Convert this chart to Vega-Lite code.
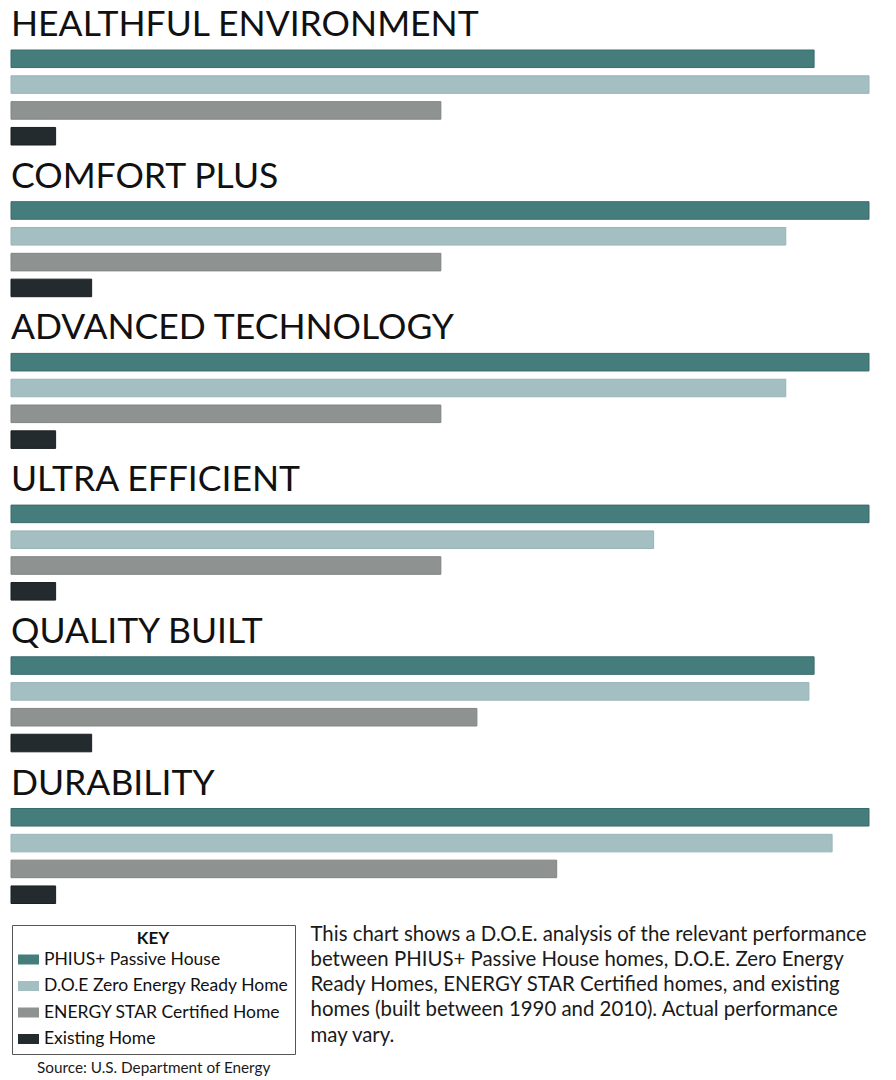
{
  "$schema": "https://vega.github.io/schema/vega-lite/v6.json",
  "padding": {"left": 10, "top": 8, "right": 0, "bottom": 0},
  "background": "white",
  "datasets": {
    "bars": [
      {"category": "HEALTHFUL ENVIRONMENT", "series": "PHIUS+ Passive House", "value": 93.6},
      {"category": "HEALTHFUL ENVIRONMENT", "series": "D.O.E Zero Energy Ready Home", "value": 100},
      {"category": "HEALTHFUL ENVIRONMENT", "series": "ENERGY STAR Certified Home", "value": 50.1},
      {"category": "HEALTHFUL ENVIRONMENT", "series": "Existing Home", "value": 5.2},
      {"category": "COMFORT PLUS", "series": "PHIUS+ Passive House", "value": 100},
      {"category": "COMFORT PLUS", "series": "D.O.E Zero Energy Ready Home", "value": 90.3},
      {"category": "COMFORT PLUS", "series": "ENERGY STAR Certified Home", "value": 50.1},
      {"category": "COMFORT PLUS", "series": "Existing Home", "value": 9.4},
      {"category": "ADVANCED TECHNOLOGY", "series": "PHIUS+ Passive House", "value": 100},
      {"category": "ADVANCED TECHNOLOGY", "series": "D.O.E Zero Energy Ready Home", "value": 90.3},
      {"category": "ADVANCED TECHNOLOGY", "series": "ENERGY STAR Certified Home", "value": 50.1},
      {"category": "ADVANCED TECHNOLOGY", "series": "Existing Home", "value": 5.2},
      {"category": "ULTRA EFFICIENT", "series": "PHIUS+ Passive House", "value": 100},
      {"category": "ULTRA EFFICIENT", "series": "D.O.E Zero Energy Ready Home", "value": 74.9},
      {"category": "ULTRA EFFICIENT", "series": "ENERGY STAR Certified Home", "value": 50.1},
      {"category": "ULTRA EFFICIENT", "series": "Existing Home", "value": 5.2},
      {"category": "QUALITY BUILT", "series": "PHIUS+ Passive House", "value": 93.6},
      {"category": "QUALITY BUILT", "series": "D.O.E Zero Energy Ready Home", "value": 93.0},
      {"category": "QUALITY BUILT", "series": "ENERGY STAR Certified Home", "value": 54.3},
      {"category": "QUALITY BUILT", "series": "Existing Home", "value": 9.4},
      {"category": "DURABILITY", "series": "PHIUS+ Passive House", "value": 100},
      {"category": "DURABILITY", "series": "D.O.E Zero Energy Ready Home", "value": 95.7},
      {"category": "DURABILITY", "series": "ENERGY STAR Certified Home", "value": 63.6},
      {"category": "DURABILITY", "series": "Existing Home", "value": 5.2}
    ]
  },
  "data": {"name": "bars"},
  "spacing": 13.7,
  "vconcat": [
    {
      "title": "HEALTHFUL ENVIRONMENT",
      "transform": [{"filter": "datum.category === 'HEALTHFUL ENVIRONMENT'"}],
      "width": 858, "height": 95,
      "mark": {"type": "bar", "strokeWidth": 1},
      "encoding": {
        "x": {"field": "value", "type": "quantitative", "scale": {"domain": [0, 100], "nice": false}, "axis": null},
        "y": {"field": "series", "type": "nominal", "sort": ["PHIUS+ Passive House", "D.O.E Zero Energy Ready Home", "ENERGY STAR Certified Home", "Existing Home"], "scale": {"paddingInner": 0.32, "paddingOuter": 0}, "axis": null},
        "color": {"field": "series", "type": "nominal", "scale": {"domain": ["PHIUS+ Passive House", "D.O.E Zero Energy Ready Home", "ENERGY STAR Certified Home", "Existing Home"], "range": ["#457d7c", "#a4bfc1", "#8e9291", "#232b2e"]}, "legend": {"title": "KEY"}},
        "stroke": {"field": "series", "type": "nominal", "scale": {"domain": ["PHIUS+ Passive House", "D.O.E Zero Energy Ready Home", "ENERGY STAR Certified Home", "Existing Home"], "range": ["#3a6c6b", "#98b4b6", "#808483", "#1a2023"]}, "legend": null}
      }
    },
    {
      "title": "COMFORT PLUS",
      "transform": [{"filter": "datum.category === 'COMFORT PLUS'"}],
      "width": 858, "height": 95,
      "mark": {"type": "bar", "strokeWidth": 1},
      "encoding": {
        "x": {"field": "value", "type": "quantitative", "scale": {"domain": [0, 100], "nice": false}, "axis": null},
        "y": {"field": "series", "type": "nominal", "sort": ["PHIUS+ Passive House", "D.O.E Zero Energy Ready Home", "ENERGY STAR Certified Home", "Existing Home"], "scale": {"paddingInner": 0.32, "paddingOuter": 0}, "axis": null},
        "color": {"field": "series", "type": "nominal"},
        "stroke": {"field": "series", "type": "nominal", "legend": null}
      }
    },
    {
      "title": "ADVANCED TECHNOLOGY",
      "transform": [{"filter": "datum.category === 'ADVANCED TECHNOLOGY'"}],
      "width": 858, "height": 95,
      "mark": {"type": "bar", "strokeWidth": 1},
      "encoding": {
        "x": {"field": "value", "type": "quantitative", "scale": {"domain": [0, 100], "nice": false}, "axis": null},
        "y": {"field": "series", "type": "nominal", "sort": ["PHIUS+ Passive House", "D.O.E Zero Energy Ready Home", "ENERGY STAR Certified Home", "Existing Home"], "scale": {"paddingInner": 0.32, "paddingOuter": 0}, "axis": null},
        "color": {"field": "series", "type": "nominal"},
        "stroke": {"field": "series", "type": "nominal", "legend": null}
      }
    },
    {
      "title": "ULTRA EFFICIENT",
      "transform": [{"filter": "datum.category === 'ULTRA EFFICIENT'"}],
      "width": 858, "height": 95,
      "mark": {"type": "bar", "strokeWidth": 1},
      "encoding": {
        "x": {"field": "value", "type": "quantitative", "scale": {"domain": [0, 100], "nice": false}, "axis": null},
        "y": {"field": "series", "type": "nominal", "sort": ["PHIUS+ Passive House", "D.O.E Zero Energy Ready Home", "ENERGY STAR Certified Home", "Existing Home"], "scale": {"paddingInner": 0.32, "paddingOuter": 0}, "axis": null},
        "color": {"field": "series", "type": "nominal"},
        "stroke": {"field": "series", "type": "nominal", "legend": null}
      }
    },
    {
      "title": "QUALITY BUILT",
      "transform": [{"filter": "datum.category === 'QUALITY BUILT'"}],
      "width": 858, "height": 95,
      "mark": {"type": "bar", "strokeWidth": 1},
      "encoding": {
        "x": {"field": "value", "type": "quantitative", "scale": {"domain": [0, 100], "nice": false}, "axis": null},
        "y": {"field": "series", "type": "nominal", "sort": ["PHIUS+ Passive House", "D.O.E Zero Energy Ready Home", "ENERGY STAR Certified Home", "Existing Home"], "scale": {"paddingInner": 0.32, "paddingOuter": 0}, "axis": null},
        "color": {"field": "series", "type": "nominal"},
        "stroke": {"field": "series", "type": "nominal", "legend": null}
      }
    },
    {
      "title": "DURABILITY",
      "transform": [{"filter": "datum.category === 'DURABILITY'"}],
      "width": 858, "height": 95,
      "mark": {"type": "bar", "strokeWidth": 1},
      "encoding": {
        "x": {"field": "value", "type": "quantitative", "scale": {"domain": [0, 100], "nice": false},
          "axis": {
            "title": ["This chart shows a D.O.E. analysis of the relevant performance", "between PHIUS+ Passive House homes, D.O.E. Zero Energy", "Ready Homes, ENERGY STAR Certified homes, and existing", "homes (built between 1990 and 2010). Actual performance", "may vary."],
            "domain": false, "ticks": false, "labels": false, "grid": false,
            "titleX": 299, "titleY": 36.5, "titleAlign": "left", "titleBaseline": "alphabetic",
            "titleFont": "Lato", "titleFontSize": 20.4, "titleFontWeight": "normal", "titleColor": "#1a1a1a", "titleLineHeight": 25.3
          }
        },
        "y": {"field": "series", "type": "nominal", "sort": ["PHIUS+ Passive House", "D.O.E Zero Energy Ready Home", "ENERGY STAR Certified Home", "Existing Home"], "scale": {"paddingInner": 0.32, "paddingOuter": 0}, "axis": null},
        "color": {"field": "series", "type": "nominal"},
        "stroke": {"field": "series", "type": "nominal", "legend": null}
      }
    }
  ],
  "title": {
    "text": "Source: U.S. Department of Energy",
    "orient": "bottom", "anchor": "start", "dx": 26, "offset": 6,
    "font": "Lato", "fontSize": 15.3, "fontWeight": "normal", "color": "#1a1a1a"
  },
  "config": {
    "view": {"stroke": null},
    "font": "Lato",
    "title": {"font": "Lato", "fontSize": 35.5, "fontWeight": "normal", "color": "#111111", "anchor": "start", "frame": "group", "baseline": "alphabetic", "offset": 6},
    "legend": {
      "orient": "none", "legendX": 1, "legendY": 875,
      "strokeColor": "#555555", "padding": 6,
      "titleAnchor": "middle", "titleFont": "Lato", "titleFontSize": 17, "titleFontWeight": "bold", "titleColor": "#111111", "titlePadding": 1,
      "labelFont": "Lato", "labelFontSize": 17.5, "labelColor": "#111111", "labelOffset": 5, "labelLimit": 400,
      "symbolType": "M-1,-0.476H1V0.476H-1Z", "symbolSize": 441, "symbolStrokeWidth": 0, "rowPadding": 7.5
    }
  }
}
